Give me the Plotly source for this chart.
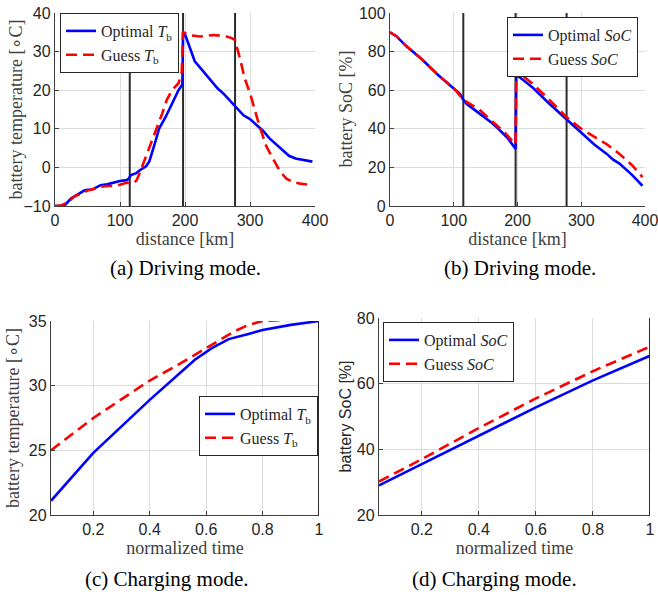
import plotly.graph_objects as go

# ---------------- data ----------------
# (a) driving mode: battery temperature vs distance
dist_T_opt = [0, 10, 15, 20, 25, 30, 40, 45, 50, 55, 60, 65, 70, 80, 85, 90, 100, 110, 113, 117,
              125, 130, 135, 140, 145, 150, 155, 160, 170, 180, 190, 196, 197, 200, 205, 210, 215,
              220, 230, 240, 250, 260, 270, 277, 285, 290, 300, 310, 320, 330, 340, 350, 355, 360,
              370, 380, 390, 396]
T_opt = [-10, -10, -9.8, -9, -8, -7.5, -6.5, -6, -5.8, -5.8, -5.5, -5, -4.6, -4.4, -4.2, -3.8, -3.5,
         -3.3, -3, -2, -1.5, -0.8, -0.3, 0.3, 1.5, 4, 7, 10, 13, 16.5, 20, 21.5, 35, 34.5, 32, 29.5,
         27.5, 26.5, 24.5, 22.5, 20.5, 19, 17.2, 16, 14.5, 13.5, 12.5, 11, 9.5, 7.5, 6, 4.5, 3.5,
         3, 2.3, 2, 1.8, 1.5]
dist_T_guess = [0, 10, 20, 30, 40, 50, 60, 70, 80, 90, 100, 110, 120, 125, 130, 136, 145, 156, 165,
                172, 180, 190, 195, 197, 200, 210, 223, 235, 244, 255, 264, 272, 277, 285, 292,
                300, 307, 315, 325, 336, 346, 356, 366, 377, 387, 397]
T_guess = [-10, -9.8, -9, -7.5, -6.8, -6, -5.6, -5, -4.8, -4.8, -4.5, -4, -4, -3.5, -1.6, 1, 5,
           9.7, 14, 17.5, 20, 21.8, 24.8, 35, 34.8, 34.2, 33.9, 34.2, 34.3, 34.1, 33.9, 33.5, 33,
           27.9, 23, 19.2, 15, 10.5, 5.5, 1.9, -1, -2.9, -3.8, -4.2, -4.4, -4.6]

# (b) driving mode: battery SoC vs distance
dist_S_opt = [0, 10, 25, 50, 75, 100, 110, 115, 120, 140, 160, 170, 185, 197, 198, 210, 225, 250,
              277, 300, 320, 340, 350, 360, 380, 396]
S_opt = [90, 88, 83, 76, 68, 61, 58, 55, 53, 48, 43, 40, 35, 29.5, 68, 65, 61, 53, 45, 38, 32, 27,
         24, 22, 16, 10.5]
dist_S_guess = [0, 10, 25, 50, 75, 100, 115, 140, 160, 180, 197, 198, 210, 225, 250, 277, 300, 320,
                340, 360, 380, 396]
S_guess = [90, 88, 83, 76, 68, 61, 55, 50, 44, 38, 32, 71, 67, 63, 55, 46, 40, 36, 32, 27, 21, 15]

# driving-mode segment boundaries [km]
segment_bounds = [115, 197, 277]

# (c) charging mode: battery temperature vs normalized time
t_T_opt = [0.05, 0.2, 0.4, 0.56, 0.62, 0.68, 0.75, 0.8, 0.9, 1.0]
T_chg_opt = [21.1, 24.8, 28.9, 32.0, 32.9, 33.6, 34.0, 34.3, 34.7, 35.0]
t_T_guess = [0.05, 0.2, 0.4, 0.5, 0.6, 0.7, 0.75, 0.8, 0.9, 1.0]
T_chg_guess = [25.0, 27.5, 30.4, 31.6, 32.9, 34.2, 34.7, 35.0, 35.1, 35.1]

# (d) charging mode: battery SoC vs normalized time
t_S = [0.05, 0.2, 0.4, 0.6, 0.8, 1.0]
S_chg_opt = [29.0, 35.5, 44.3, 52.8, 61.0, 68.5]
S_chg_guess = [30.2, 37.0, 46.5, 55.5, 63.8, 71.3]
charge_end = [1.0]

# ---------------- styling ----------------
# the page body margin is removed (post_script), so the figure fills the window
W, H = 658, 595
BLUE = "#0000ff"
RED = "#ff0000"
AX = "#404040"
GRID = "#dcdcdc"
SANS = "Liberation Sans"
SERIF = "Liberation Serif"

def px_x(p):
    return p / W

def px_y(p):
    return 1 - p / H

fig = go.Figure()

panels = [
    # name, x px span, y px span (top, bottom), y-title centre x px
    ("a", (55, 315), (13, 206), 15),
    ("b", (390, 645), (13, 206), 345),
    ("c", (51, 319), (321, 515), 13),
    ("d", (379, 650), (318, 515), 345),
]

def add_line(x, y, name, color, dash, xa, ya, legend):
    fig.add_trace(go.Scatter(
        x=x, y=y, mode="lines", name=name, xaxis=xa, yaxis=ya, legend=legend,
        line=dict(color=color, width=2.6, dash=dash)))

def add_vlines(xs, yr, xa, ya):
    for xv in xs:
        fig.add_trace(go.Scatter(
            x=[xv, xv], y=yr, mode="lines", xaxis=xa, yaxis=ya, showlegend=False,
            hoverinfo="skip", line=dict(color="#2b2b2b", width=2)))

add_vlines(segment_bounds, [-10, 40], "x", "y")
add_vlines(segment_bounds, [0, 100], "x2", "y2")
add_vlines(charge_end, [20, 35], "x3", "y3")
add_vlines(charge_end, [20, 80], "x4", "y4")

DASH = "11px,6px"
add_line(dist_T_opt, T_opt, "Optimal <i>T</i><sub>b</sub>", BLUE, "solid", "x", "y", "legend")
add_line(dist_T_guess, T_guess, "Guess <i>T</i><sub>b</sub>", RED, DASH, "x", "y", "legend")
add_line(dist_S_opt, S_opt, "Optimal <i>SoC</i>", BLUE, "solid", "x2", "y2", "legend2")
add_line(dist_S_guess, S_guess, "Guess <i>SoC</i>", RED, DASH, "x2", "y2", "legend2")
add_line(t_T_opt, T_chg_opt, "Optimal <i>T</i><sub>b</sub>", BLUE, "solid", "x3", "y3", "legend3")
add_line(t_T_guess, T_chg_guess, "Guess <i>T</i><sub>b</sub>", RED, DASH, "x3", "y3", "legend3")
add_line(t_S, S_chg_opt, "Optimal <i>SoC</i>", BLUE, "solid", "x4", "y4", "legend4")
add_line(t_S, S_chg_guess, "Guess <i>SoC</i>", RED, DASH, "x4", "y4", "legend4")

def axis(domain, rng, dtick, anchor, title=None, title_font=None, tick0=None):
    d = dict(
        domain=domain, range=rng, dtick=dtick, anchor=anchor, automargin=False,
        showgrid=True, gridcolor=GRID, gridwidth=1,
        showline=True, linecolor=AX, linewidth=1.3,
        ticks="inside", ticklen=4, tickcolor=AX, tickwidth=1,
        tickfont=dict(family=SANS, size=16, color="#262626"),
        ticklabeloverflow="allow",
        zeroline=False,
    )
    if title is not None:
        d["title"] = dict(text=title, font=title_font, standoff=2)
    if tick0 is not None:
        d["tick0"] = tick0
    return d

serif_t = dict(family=SERIF, size=18, color="#404040")
sans_t = dict(family=SANS, size=16, color="#262626")

layout_axes = {}
specs = {
    "a": dict(xr=[0, 400], xd=100, xt="distance [km]", yr=[-10, 40], yd=10,
              yt="battery temperature [∘C]", yf=serif_t),
    "b": dict(xr=[0, 400], xd=100, xt="distance [km]", yr=[0, 100], yd=20,
              yt="battery SoC [%]", yf=serif_t),
    "c": dict(xr=[0.05, 1], xd=0.2, xt="normalized time", yr=[20, 35], yd=5,
              yt="battery temperature [∘C]", yf=serif_t),
    "d": dict(xr=[0.05, 1], xd=0.2, xt="normalized time", yr=[20, 80], yd=20,
              yt="battery SoC [%]", yf=sans_t),
}
for i, (name, xd, yd, ytx) in enumerate(panels):
    s = specs[name]
    suffix = "" if i == 0 else str(i + 1)
    xdom = [px_x(xd[0]), px_x(xd[1])]
    ydom = [px_y(yd[1]), px_y(yd[0])]
    tick0 = 0 if name in ("c", "d") else None
    layout_axes["xaxis" + suffix] = axis(xdom, s["xr"], s["xd"], "y" + suffix,
                                         s["xt"], serif_t, tick0)
    layout_axes["yaxis" + suffix] = axis(ydom, s["yr"], s["yd"], "x" + suffix)
    # y-axis title as a rotated annotation, centred on the plot height
    fig.add_annotation(text=s["yt"], x=px_x(ytx), y=(ydom[0] + ydom[1]) / 2,
                       xref="paper", yref="paper", textangle=-90,
                       xanchor="center", yanchor="middle", showarrow=False,
                       font=s["yf"])

leg_common = dict(
    bgcolor="white", bordercolor="#262626", borderwidth=1,
    font=dict(family=SERIF, size=16, color="#262626"),
    tracegroupgap=0, itemwidth=30,
)
fig.update_layout(
    width=W, height=H,
    margin=dict(l=0, r=0, t=0, b=0),
    paper_bgcolor="white", plot_bgcolor="white",
    showlegend=True,
    legend=dict(x=px_x(60), y=px_y(13), xanchor="left", yanchor="top", **leg_common),
    legend2=dict(x=px_x(638), y=px_y(17), xanchor="right", yanchor="top", **leg_common),
    legend3=dict(x=px_x(318), y=px_y(396), xanchor="right", yanchor="top", **leg_common),
    legend4=dict(x=px_x(383), y=px_y(322), xanchor="left", yanchor="top", **leg_common),
    **layout_axes,
)

captions = [
    ("(a) Driving mode.", 185, 268),
    ("(b) Driving mode.", 520, 268),
    ("(c) Charging mode.", 167, 579),
    ("(d) Charging mode.", 495, 579),
]
for text, cx, cy in captions:
    fig.add_annotation(text=text, x=px_x(cx), y=px_y(cy), xref="paper", yref="paper",
                       xanchor="center", yanchor="middle", showarrow=False,
                       font=dict(family=SERIF, size=21, color="black"))

fig.write_html(
    "out.html",
    config={"displayModeBar": False},
    post_script="document.body.style.margin='0';document.body.style.overflow='hidden';",
)
